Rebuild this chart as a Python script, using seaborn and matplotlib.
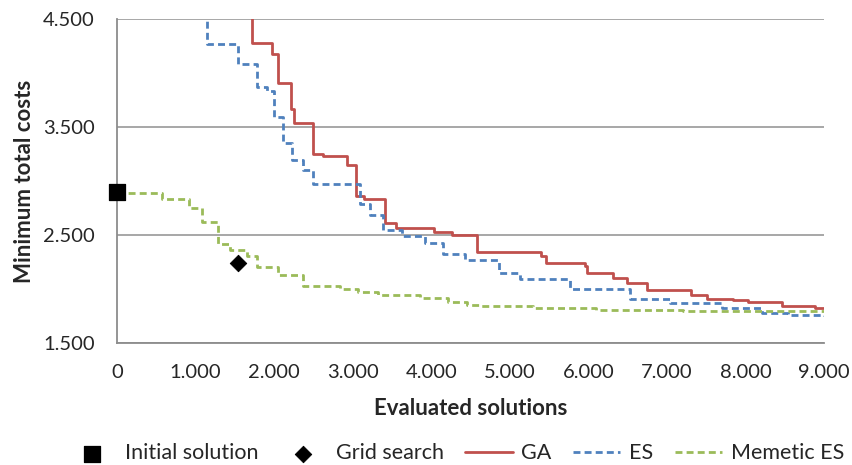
import matplotlib
matplotlib.use("Agg")
import matplotlib.pyplot as plt
from matplotlib.ticker import FuncFormatter
import seaborn as sns
import pandas as pd

# step curves (evaluated solutions, best cost so far)
ga_x = [0, 1726, 1972, 2056, 2214, 2256, 2502, 2628, 2934, 3040, 3146, 3414, 3554,
        4041, 4262, 4580, 5394, 5462, 5958, 5988, 6318, 6488, 6743, 7303, 7506,
        7837, 8036, 8461, 8884, 9000]
ga_y = [5600, 4275, 4176, 3904, 3672, 3539, 3249, 3230, 3147, 2860, 2838, 2616, 2569,
        2529, 2498, 2343, 2304, 2241, 2214, 2152, 2106, 2056, 1988, 1948, 1908,
        1896, 1877, 1847, 1828, 1828]

es_x = [0, 1145, 1547, 1789, 1908, 2001, 2120, 2226, 2374, 2494, 3095, 3223, 3392,
        3626, 3923, 4155, 4431, 4868, 5131, 5767, 6531, 7040, 7697, 8206, 8545, 9000]
es_y = [5200, 4268, 4080, 3867, 3835, 3595, 3354, 3193, 3100, 2972, 2792, 2683, 2545,
        2492, 2430, 2329, 2267, 2149, 2097, 1998, 1911, 1871, 1825, 1778, 1757, 1750]

mes_x = [0, 572, 924, 1081, 1293, 1441, 1654, 1781, 2056, 2374, 2841, 3074, 3328,
         3858, 4219, 4453, 4622, 5300, 6100, 7200, 9000]
mes_y = [2890, 2838, 2751, 2621, 2421, 2359, 2304, 2204, 2134, 2026, 2001, 1973, 1948,
         1921, 1880, 1856, 1843, 1828, 1810, 1797, 1797]

init_x, init_y = [0], [2900]
grid_x, grid_y = [1547], [2245]

red = "#C0504D"
blue = "#4F81BD"
green = "#9BBB59"

sns.set_style("white")
plt.rcParams["font.family"] = ["Lato", "DejaVu Sans"]

fig = plt.figure(figsize=(8.53, 4.65), dpi=100)
ax = fig.add_axes([0.137, 0.262, 0.829, 0.697])

sns.lineplot(x=ga_x, y=ga_y, ax=ax, color=red, lw=2.0, drawstyle="steps-post",
             label="GA", zorder=3)
sns.lineplot(x=es_x, y=es_y, ax=ax, color=blue, lw=2.0, drawstyle="steps-post",
             label="ES", zorder=3)
sns.lineplot(x=mes_x, y=mes_y, ax=ax, color=green, lw=2.0, drawstyle="steps-post",
             label="Memetic ES", zorder=3)
ax.lines[1].set_linestyle((0, (2.5, 1.5)))
ax.lines[2].set_linestyle((0, (2.5, 1.5)))

sns.scatterplot(x=init_x, y=init_y, ax=ax, marker="s", s=130, color="black",
                edgecolor="black", label="Initial solution", zorder=5, clip_on=False)
sns.scatterplot(x=grid_x, y=grid_y, ax=ax, marker="D", s=70, color="black",
                edgecolor="black", label="Grid search", zorder=5)

ax.set_xlim(0, 9000)
ax.set_ylim(1500, 4500)
ax.set_xticks(range(0, 9001, 1000))
ax.set_yticks(range(1500, 4501, 1000))
fmt = FuncFormatter(lambda v, p: f"{int(v):,}".replace(",", "."))
ax.xaxis.set_major_formatter(fmt)
ax.yaxis.set_major_formatter(fmt)

ax.yaxis.grid(True, color="#A0A0A0", lw=1.3)
ax.xaxis.grid(False)
for s in ["top", "right"]:
    ax.spines[s].set_visible(False)
for s in ["left", "bottom"]:
    ax.spines[s].set_color("#8C8C8C")
    ax.spines[s].set_linewidth(1.3)
ax.tick_params(axis="both", direction="out", length=5, width=1.3, color="#8C8C8C",
               labelsize=14.5)
ax.tick_params(axis="x", pad=10)
ax.tick_params(axis="y", pad=11)

ax.set_xlabel("Evaluated solutions", fontsize=16, fontweight="bold", labelpad=12)
ax.set_ylabel("Minimum total costs", fontsize=16, fontweight="bold", labelpad=6)

h, l = ax.get_legend_handles_labels()
order = [l.index(n) for n in ["Initial solution", "Grid search", "GA", "ES", "Memetic ES"]]
ax.get_legend().remove()
fig.legend([h[i] for i in order], [l[i] for i in order], loc="center",
           bbox_to_anchor=(0.535, 0.025), ncol=5, frameon=False, fontsize=15.5,
           handlelength=2.2, columnspacing=1.0, handletextpad=0.4)

fig.savefig("out.png", dpi=100)
